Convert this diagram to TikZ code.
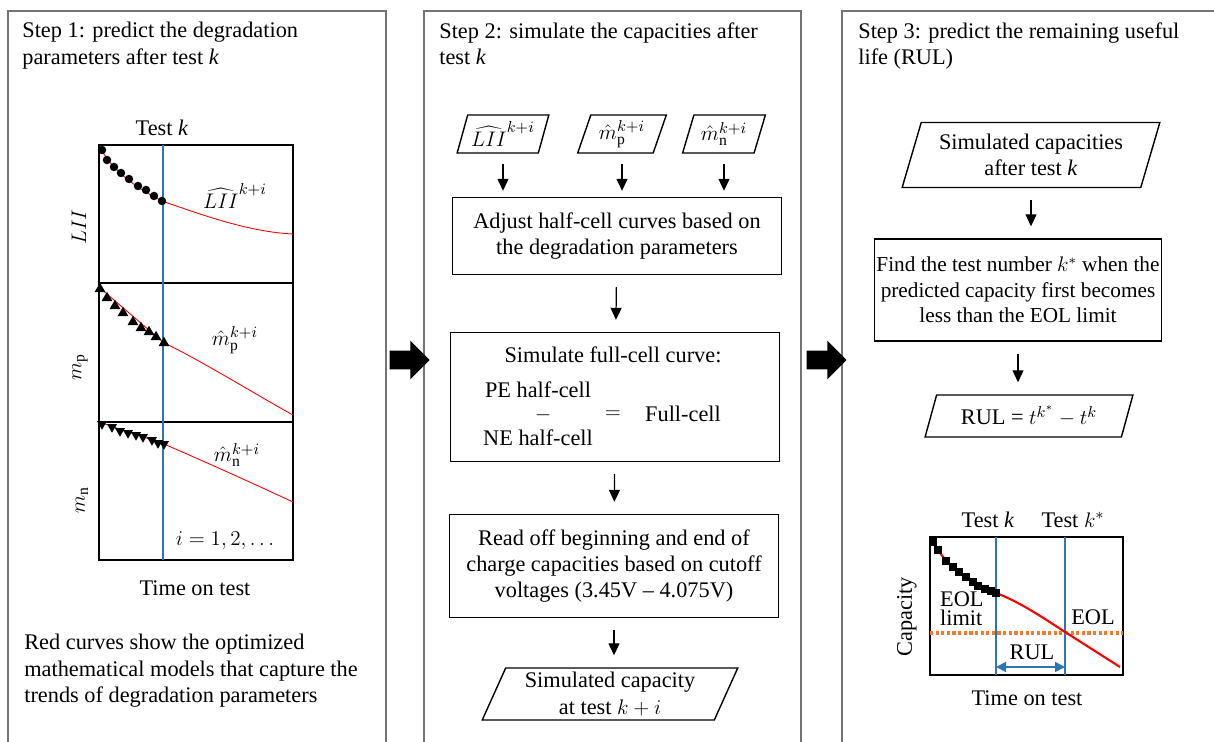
\documentclass[tikz,border=0pt]{standalone}
\usepackage{fontspec}
\setmainfont{Liberation Serif}
\usetikzlibrary{positioning, arrows.meta, shapes.geometric, shapes.arrows}
\definecolor{testblue}{RGB}{46,117,182}
\definecolor{eolorange}{RGB}{237,125,49}
\tikzset{
    panel/.style={draw=black!55, line width=0.6pt},
    steptitle/.style={anchor=north west, align=left, inner sep=0pt},
    flowbox/.style={draw, line width=0.8pt, align=center, minimum width=6.58cm, inner sep=2pt},
    flowio/.style={draw, trapezium, trapezium left angle=70, trapezium right angle=110, trapezium stretches=true, line width=0.8pt, align=center, inner xsep=2pt, inner ysep=1pt},
    flowarrow/.style={-{Triangle[length=2.4mm, width=2.2mm]}, line width=0.7pt, shorten <=0.24cm, shorten >=0.24cm},
    bigarrow/.style={single arrow, fill=black, draw=none, minimum height=0.8cm, minimum width=0.76cm, inner sep=0.18cm, single arrow head extend=0.2cm},
    plotframe/.style={draw, line width=0.6pt},
    testline/.style={draw=testblue, line width=0.7pt},
    fitcurve/.style={draw=red, line width=0.5pt},
    dotmark/.style={circle, fill, inner sep=0pt, minimum size=0.17cm},
    upmark/.style={regular polygon, regular polygon sides=3, fill, inner sep=0pt, minimum size=0.25cm},
    downmark/.style={regular polygon, regular polygon sides=3, shape border rotate=180, fill, inner sep=0pt, minimum size=0.23cm},
    sqmark/.style={rectangle, fill, inner sep=0pt, minimum size=0.15cm},
}

\begin{document}
\begin{tikzpicture}[x=0.02cm, y=-0.02cm, font=\fontsize{12.7}{15}\selectfont]
    \useasboundingbox (0,0) rectangle (1214,742);
    \clip (0,0) rectangle (1214,742);
    % three step panels
    \draw[panel] (8,11) rectangle (386,760);
    \draw[panel] (424,11) rectangle (801,760);
    \draw[panel] (842,11) rectangle (1225,760);
    \node[steptitle] (title1) at (22,22) {Step 1: predict the degradation\\parameters after test \textit{k}};
    \node[steptitle] (title2) at (439,22) {Step 2: simulate the capacities after\\test \textit{k}};
    \node[steptitle] (title3) at (858,22) {Step 3: predict the remaining useful\\life (RUL)};
    \node[bigarrow] (go12) at (405,360) {};
    \node[bigarrow] (go23) at (822,360) {};

    % step 1: degradation parameters
    \draw[plotframe] (99,145) rectangle (293,560);
    \draw[line width=1.4pt] (99,283) -- (293,283);
    \draw[plotframe] (99,422) -- (293,422);
    \draw[testline] (163,145) -- (163,560);
    \draw[fitcurve] (101,148) .. controls (108,165) and (130,185) .. (162,201)
        .. controls (205,216) and (250,232) .. (293,234);
    \draw[fitcurve] (100,288) -- (164,343) .. controls (195,357) and (260,397) .. (293,415);
    \draw[fitcurve] (102,423) -- (164,444) .. controls (210,464) and (250,482) .. (293,502);
    \foreach \p [count=\i] in {(102,150),(107,160),(114,167),(121,173),(129,179),(138,186),(146,190),(154,196),(162,201)}
        \node[dotmark] (lii\i) at \p {};
    \foreach \p [count=\i] in {(100,289),(107,298),(115,306),(123,313),(133,322),(141,328),(149,332),(156,337),(164,343)}
        \node[upmark] (mp\i) at \p {};
    \foreach \p [count=\i] in {(102,424),(112,427),(120,431),(128,433),(136,435),(143,437),(152,440),(158,443),(164,444)}
        \node[downmark] (mn\i) at \p {};
    \node (testk1) at (162,128) {Test \textit{k}};
    \node (liifit) at (235,196) {$\widehat{LII}^{k+i}$};
    \node (mpfit) at (235,340) {$\hat{m}_{\mathrm{p}}^{k+i}$};
    \node (mnfit) at (237,455) {$\hat{m}_{\mathrm{n}}^{k+i}$};
    \node (irange) at (225,541) {$i = 1, 2, \ldots$};
    \node (time1) at (195,588) {Time on test};
    \node[rotate=90] (liiax) at (79,227) {$LII$};
    \node[rotate=90] (mpax) at (80,367) {$m_{\mathrm{p}}$};
    \node[rotate=90] (mnax) at (82,500) {$m_{\mathrm{n}}$};
    \node[steptitle] (note1) at (24,634) {Red curves show the optimized\\mathematical models that capture the\\trends of degradation parameters};

    % step 2: simulate capacities
    \node[flowio, minimum width=1.8cm, minimum height=0.76cm] (liiin) at (503,134) {$\widehat{LII}^{k+i}$};
    \node[flowio, minimum width=1.78cm, minimum height=0.76cm] (mpin) at (622,134) {$\hat{m}_{\mathrm{p}}^{k+i}$};
    \node[flowio, minimum width=1.66cm, minimum height=0.76cm] (mnin) at (724,134) {$\hat{m}_{\mathrm{n}}^{k+i}$};
    \node[flowbox, minimum height=1.54cm] (adjust) at (617,236) {Adjust half-cell curves based on\\the degradation parameters};
    \node[flowbox, minimum height=2.58cm] (fullcell) at (615,397) {};
    \node (fullhead) at (613,355) {Simulate full-cell curve:};
    \node (pehalf) at (538,390) {PE half-cell};
    \node (minus) at (543,415) {$-$};
    \node (nehalf) at (538,438) {NE half-cell};
    \node (equal) at (613,415) {$=$};
    \node (fullres) at (683,414) {Full-cell};
    \node[flowbox, minimum height=2.06cm] (readoff) at (614,566) {Read off beginning and end of\\charge capacities based on cutoff\\voltages (3.45V -- 4.075V)};
    \node[flowio, minimum width=5.12cm, minimum height=1.04cm, trapezium left angle=67, trapezium right angle=113] (capout) at (610,694) {Simulated capacity\\at test $k+i$};
    \draw[flowarrow, shorten <=0.2cm, shorten >=0.12cm] (liiin.south) -- (liiin.south |- adjust.north);
    \draw[flowarrow, shorten <=0.2cm, shorten >=0.12cm] (mpin.south) -- (mpin.south |- adjust.north);
    \draw[flowarrow, shorten <=0.2cm, shorten >=0.12cm] (mnin.south) -- (mnin.south |- adjust.north);
    \draw[flowarrow] (adjust) -- (fullcell);
    \draw[flowarrow] (fullcell) -- (readoff);
    \draw[flowarrow] (readoff.south) -- (readoff.south |- capout.north);

    % step 3: remaining useful life
    \node[flowio, minimum width=5.16cm, minimum height=1.3cm] (capsim) at (1031,155) {Simulated capacities\\after test \textit{k}};
    \node[flowbox, minimum width=5.5cm, minimum height=2.04cm, inner xsep=1pt, font=\fontsize{12.1}{14.5}\selectfont] (findk) at (1018,290) {Find the test number $k^*$ when the\\predicted capacity first becomes\\less than the EOL limit};
    \node[flowio, minimum width=4.16cm, minimum height=0.84cm] (rul) at (1029,416) {RUL = $t^{k^*} - t^{k}$};
    \draw[flowarrow] (capsim.south) -- (capsim.south |- findk.north);
    \draw[flowarrow] (findk.south) -- (findk.south |- rul.north);

    % capacity sketch
    \draw[plotframe] (930,537) rectangle (1123,675);
    \draw[testline] (996,537) -- (996,675);
    \draw[testline] (1065,537) -- (1065,675);
    \draw[eolorange, line width=1.8pt, dash pattern=on 1.8pt off 1.4pt] (930,633) -- (1123,633);
    \draw[red, line width=1.2pt] (931,539) -- (938,550) -- (946,561) -- (959,572) -- (973,582) -- (985,589) -- (996,593)
        .. controls (1020,602) and (1045,619) .. (1065,632) -- (1120,667);
    \foreach \p [count=\i] in {(933,542),(938,550),(946,561),(953,567),(959,572),(966,577),(973,582),(978,586),(985,589),(991,591),(996,593)}
        \node[sqmark] (cap\i) at \p {};
    \coordinate (rulstart) at (996,667);
    \coordinate (rulend) at (1065,667);
    \draw[testblue, line width=1pt, {Triangle[length=2mm, width=2mm]}-{Triangle[length=2mm, width=2mm]}] (rulstart) -- (rulend);
    \node (testk3) at (988,520) {Test \textit{k}};
    \node (testks) at (1073,520) {Test $k^*$};
    \node[align=left, anchor=west, font=\fontsize{12.7}{11}\selectfont] (eollim) at (934,609) {EOL\\limit};
    \node (eolpt) at (1093,617) {EOL};
    \node (rullbl) at (1032,652) {RUL};
    \node[rotate=90] (capax) at (907,617) {Capacity};
    \node (time3) at (1027,698) {Time on test};
\end{tikzpicture}
\end{document}
